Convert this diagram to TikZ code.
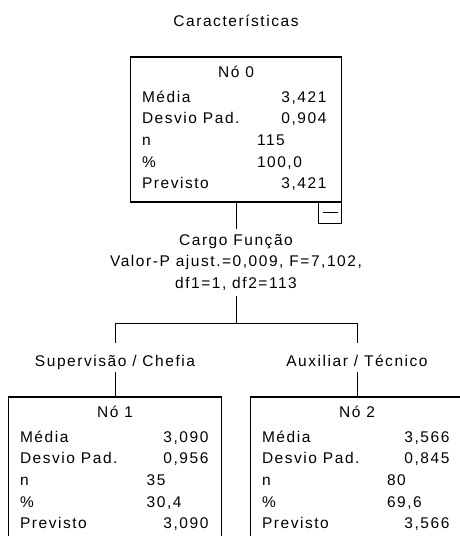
\documentclass[tikz,border=0pt]{standalone}
\usepackage{fontspec}
\setmainfont{Liberation Sans}[LetterSpace=10]
\usetikzlibrary{calc}
\newcommand\boxrows[8]{%
  \node[anchor=base west] (#1-l1) at ($(#1.north west)+(11.5,-45.2)$) {Média};
  \node[anchor=base east] (#1-v1) at ($(#1.north east)+(-#3,-45.2)$) {#4};
  \node[anchor=base west] (#1-l2) at ($(#1.north west)+(11.5,-66.8)$) {Desvio Pad.};
  \node[anchor=base east] (#1-v2) at ($(#1.north east)+(-#3,-66.8)$) {#5};
  \node[anchor=base west] (#1-l3) at ($(#1.north west)+(11.5,-88.4)$) {n};
  \node[anchor=base west] (#1-v3) at ($(#1.north west)+(#2,-88.4)$) {#6};
  \node[anchor=base west] (#1-l4) at ($(#1.north west)+(11.5,-110.1)$) {\%};
  \node[anchor=base west] (#1-v4) at ($(#1.north west)+(#2,-110.1)$) {#7};
  \node[anchor=base west] (#1-l5) at ($(#1.north west)+(11.5,-131.8)$) {Previsto};
  \node[anchor=base east] (#1-v5) at ($(#1.north east)+(-#3,-131.8)$) {#8};
}
\begin{document}
\begin{tikzpicture}[x=1pt,y=1pt,
  every node/.style={font=\fontsize{15.5}{21.6}\selectfont, inner sep=0pt, outer sep=0pt},
  box/.style={draw, line width=1.2pt, minimum height=145pt},
  conn/.style={line width=1pt},
  lab/.style={anchor=base, text height=23.7pt, text depth=5.3pt}]
\clip (0,0) rectangle (460,-536);
\node[anchor=base] (title) at (236,-26.7) {Características};
% root box
\node[box, minimum width=211pt] (n0) at (236,-129.5) {};
\node[anchor=base] (n0-t) at ($(n0.north)+(0,-20.7)$) {Nó 0};
\boxrows{n0}{126.5}{15.1}{3,421}{0,904}{115}{100,0}{3,421}
\node[draw, line width=1pt, minimum width=23pt, minimum height=21pt, anchor=north east] (btn) at (n0.south east) {};
\draw[line width=1pt] ($(btn.center)+(-7.5,0)$) -- ($(btn.center)+(7.5,0)$);
% split label
\node[anchor=base, text height=16pt, text depth=51pt] (split) at (236,-245)
  {\begin{tabular}[t]{@{}c@{}}Cargo Função\\Valor-P ajust.=0,009, F=7,102,\\df1=1, df2=113\end{tabular}};
\draw[conn] (n0.south) -- (split.north);
\coordinate (fork) at (236,-323);
\coordinate (forkL) at (115,-323);
\coordinate (forkR) at (357,-323);
\draw[conn] (split.south) -- (fork);
\draw[conn] (forkL) -- (forkR);
% children
\node[box, minimum width=213pt] (n1) at (115,-469.5) {};
\node[box, minimum width=213pt] (n2) at (357,-469.5) {};
\node[lab] (lab1) at (115,-366.7) {Supervisão / Chefia};
\node[lab] (lab2) at (357,-366.7) {Auxiliar / Técnico};
\draw[conn] (forkL) -- (lab1.north);
\draw[conn] (lab1.south) -- (n1.north);
\draw[conn] (forkR) -- (lab2.north);
\draw[conn] (lab2.south) -- (n2.north);
\node[anchor=base] (n1-t) at ($(n1.north)+(0,-20.7)$) {Nó 1};
\boxrows{n1}{138.2}{13.1}{3,090}{0,956}{35}{30,4}{3,090}
\node[anchor=base] (n2-t) at ($(n2.north)+(0,-20.7)$) {Nó 2};
\boxrows{n2}{136.5}{14.1}{3,566}{0,845}{80}{69,6}{3,566}
\end{tikzpicture}
\end{document}
